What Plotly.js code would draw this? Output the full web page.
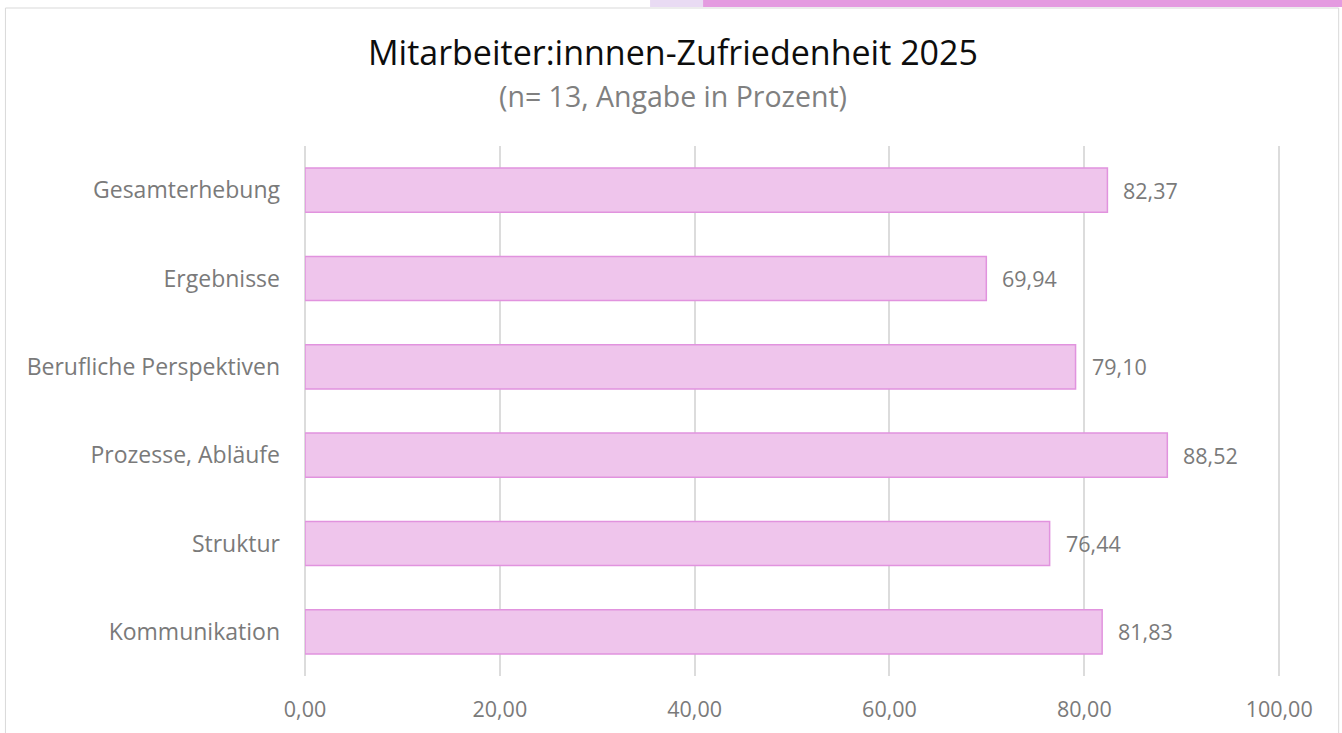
<!DOCTYPE html>
<html>
<head>
<meta charset="utf-8">
<script src="https://cdn.plot.ly/plotly-3.0.1.min.js"></script>
<style>
  html, body { margin: 0; padding: 0; background: #ffffff; }
  #chart { width: 1342px; height: 733px; }
</style>
</head>
<body>
<div id="chart"></div>
<script>
const categories = ["Gesamterhebung", "Ergebnisse", "Berufliche Perspektiven", "Prozesse, Abläufe", "Struktur", "Kommunikation"];
const values = [82.37, 69.94, 79.10, 88.52, 76.44, 81.83];
const tickValues = [0, 20, 40, 60, 80, 100];
const titleText = "Mitarbeiter:innnen-Zufriedenheit 2025";
const subtitleText = "(n= 13, Angabe in Prozent)";

const FONT = "'Open Sans', 'Noto Sans', sans-serif";
const GRAY = "#7a7a7a";
const XMAX = 100.6;
const L = 305, T = 146, B = 676;
const R = L + 974 * XMAX / 100;
const W = 1342, H = 733;
const px = x => (x - L) / (R - L);
const py = y => (B - y) / (B - T);

const trace = {
  type: "bar",
  orientation: "h",
  y: categories,
  x: values,
  marker: { color: "#efc5ec", line: { color: "#e193de", width: 1.5 } },
  hoverinfo: "skip"
};

const fmt = v => v.toFixed(2).replace(".", ",");
const valueAnnotations = categories.map((c, i) => ({
  x: values[i], y: c, xref: "x", yref: "y",
  text: fmt(values[i]), showarrow: false,
  xanchor: "left", yanchor: "middle", xshift: 14,
  font: { family: FONT, size: 21.5, color: GRAY }
}));

const layout = {
  width: W, height: H,
  margin: { l: L, r: W - R, t: T, b: H - B, pad: 0 },
  paper_bgcolor: "#ffffff",
  plot_bgcolor: "rgba(0,0,0,0)",
  separators: ",.",
  showlegend: false,
  bargap: 0.5,
  font: { family: FONT, color: GRAY },
  xaxis: {
    range: [0, XMAX],
    tickvals: tickValues,
    tickformat: ".2f",
    showgrid: true, gridcolor: "#dcdcdc", gridwidth: 2,
    zeroline: true, zerolinecolor: "#dcdcdc", zerolinewidth: 2,
    showline: false, ticks: "",
    tickfont: { family: FONT, size: 21.5, color: GRAY },
    ticklabelstandoff: 18,
    fixedrange: true
  },
  yaxis: {
    autorange: "reversed",
    showgrid: false, zeroline: false, showline: false, ticks: "",
    tickfont: { family: FONT, size: 23, color: GRAY },
    ticklabelstandoff: 24,
    fixedrange: true
  },
  annotations: [
    { x: 0.5, y: py(52), xref: "paper", yref: "paper", xanchor: "center", yanchor: "middle",
      xshift: (W / 2) - (L + (R - L) / 2) + 2,
      text: titleText, showarrow: false,
      font: { family: FONT, size: 34, color: "#0d0d0d" } },
    { x: 0.5, y: py(96), xref: "paper", yref: "paper", xanchor: "center", yanchor: "middle",
      xshift: (W / 2) - (L + (R - L) / 2) + 2,
      text: subtitleText, showarrow: false,
      font: { family: FONT, size: 28.5, color: "#808080" } }
  ].concat(valueAnnotations),
  shapes: [
    { type: "rect", xref: "paper", yref: "paper", layer: "below",
      x0: px(5.5), x1: px(1338.5), y0: py(8), y1: py(745),
      line: { color: "#d9d9d9", width: 1 }, fillcolor: "rgba(0,0,0,0)" },
    { type: "rect", xref: "paper", yref: "paper", layer: "below",
      x0: px(650), x1: px(703), y0: py(0), y1: py(7),
      line: { width: 0 }, fillcolor: "#e9dbf3" },
    { type: "rect", xref: "paper", yref: "paper", layer: "below",
      x0: px(703), x1: px(1342), y0: py(0), y1: py(7),
      line: { width: 0 }, fillcolor: "#e49be0" }
  ]
};

Plotly.newPlot("chart", [trace], layout, { displayModeBar: false, staticPlot: true });
</script>
</body>
</html>
